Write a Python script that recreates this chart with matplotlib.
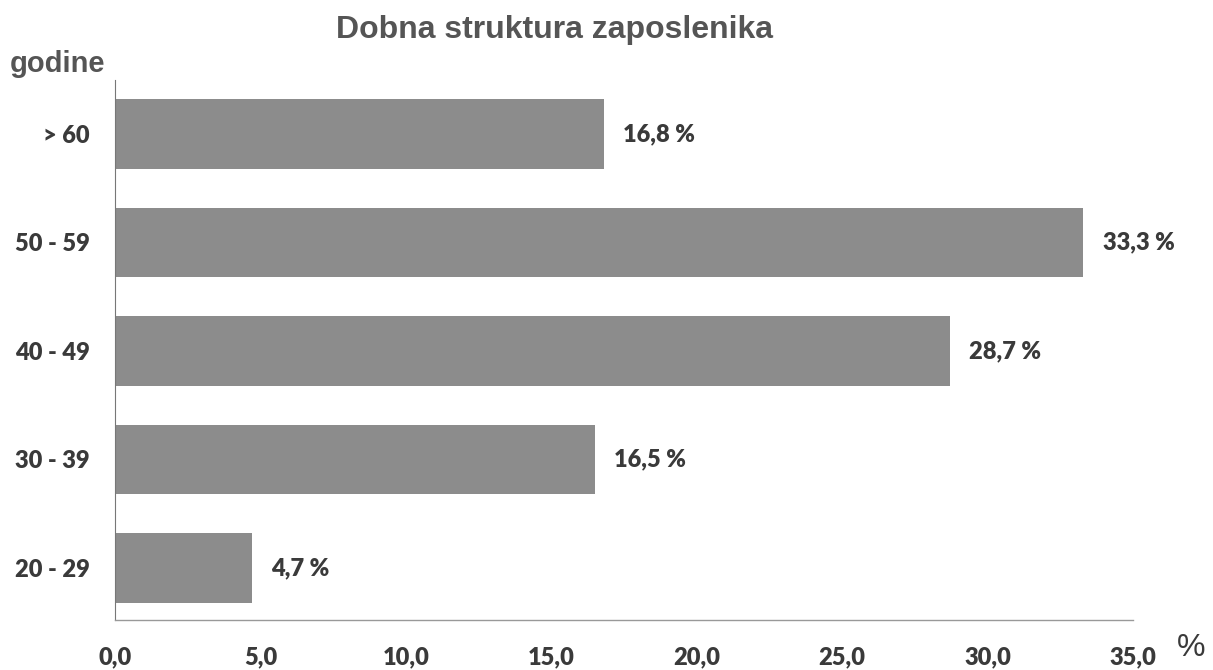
import numpy as np
import matplotlib.pyplot as plt

categories = ["20 - 29", "30 - 39", "40 - 49", "50 - 59", "> 60"]
values = [4.7, 16.5, 28.7, 33.3, 16.8]
xticks = [0, 5, 10, 15, 20, 25, 30, 35]

plt.rcParams['font.family'] = ['Lato', 'DejaVu Sans']
txt = "#3a3a3a"
wt = "heavy"

fig = plt.figure(figsize=(12.13, 6.7), dpi=100)
ax = fig.add_axes([0.0948, 0.0746, 0.8392, 0.8064])

y = np.arange(len(categories))
ax.barh(y, values, height=0.64, color="#8c8c8c")

for yi, v in zip(y, values):
    ax.annotate(f"{v:.1f} %".replace(".", ","), (v, yi), xytext=(14, 0),
                textcoords="offset points", va="center", ha="left",
                fontsize=17, fontweight=wt, color=txt)

ax.set_xlim(0, 35)
ax.set_ylim(-0.48, 4.5)
ax.set_yticks(y)
ax.set_yticklabels(categories, fontsize=17, fontweight=wt, color=txt)
ax.set_xticks(xticks)
ax.set_xticklabels([f"{t:.1f}".replace(".", ",") for t in xticks],
                   fontsize=17, fontweight=wt, color=txt)
ax.tick_params(axis="y", length=0, pad=18)
ax.tick_params(axis="x", length=0, pad=19)

for s in ["top", "right"]:
    ax.spines[s].set_visible(False)
ax.spines["left"].set_color("#777777")
ax.spines["bottom"].set_color("#999999")
ax.spines["left"].set_linewidth(0.8)
ax.spines["bottom"].set_linewidth(1.0)

fig.text(0.457, 0.955, "Dobna struktura zaposlenika", ha="center", va="center",
         fontsize=23, fontweight="bold", color="#555555", family="Liberation Sans")
fig.text(0.008, 0.905, "godine", ha="left", va="center",
         fontsize=21, fontweight="bold", color="#555555", family="Liberation Sans")
fig.text(0.982, 0.033, "%", ha="center", va="center",
         fontsize=23, color=txt, family="Liberation Sans")

fig.savefig("out.png", dpi=100)
